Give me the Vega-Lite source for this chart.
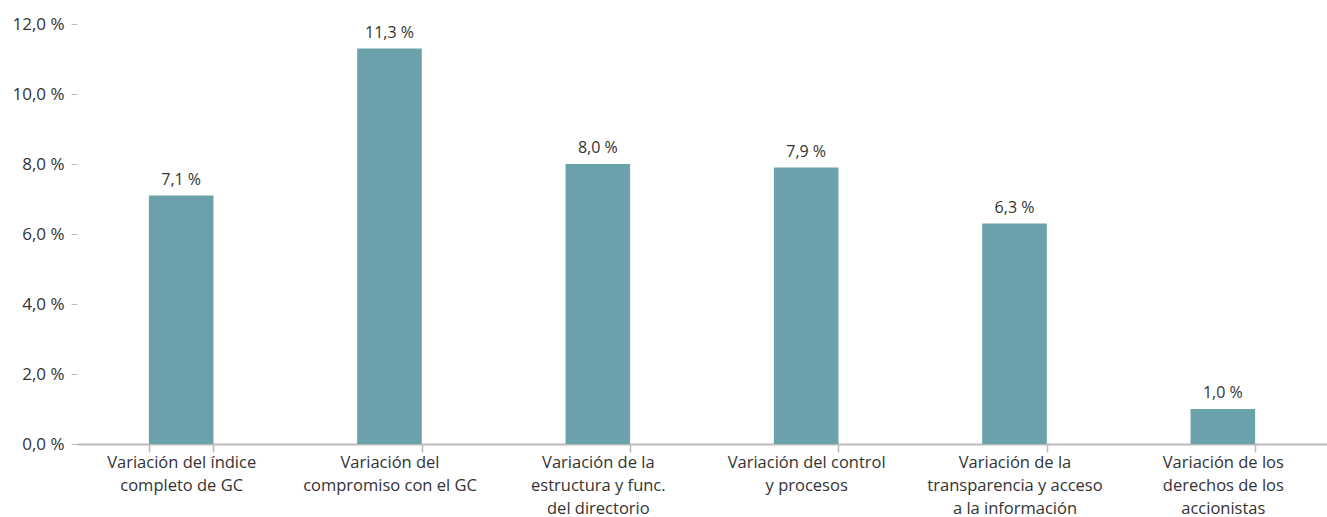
{
  "$schema": "https://vega.github.io/schema/vega-lite/v6.json",
  "width": 1250,
  "height": 420,
  "autosize": {"type": "none"},
  "padding": {"left": 77, "top": 24, "right": 0, "bottom": 73},
  "background": "white",
  "config": {
    "view": {"stroke": null},
    "font": "Open Sans",
    "text": {"font": "Open Sans"}
  },
  "data": {
    "values": [
      {"cat": "Variación del índice|completo de GC", "v": 7.1},
      {"cat": "Variación del|compromiso con el GC", "v": 11.3},
      {"cat": "Variación de la|estructura y func.|del directorio", "v": 8.0},
      {"cat": "Variación del control|y procesos", "v": 7.9},
      {"cat": "Variación de la|transparencia y acceso|a la información", "v": 6.3},
      {"cat": "Variación de los|derechos de los|accionistas", "v": 1.0}
    ]
  },
  "transform": [
    {"calculate": "replace(format(datum.v, '.1f'), '.', ',') + ' %'", "as": "lab"}
  ],
  "encoding": {
    "x": {
      "field": "cat",
      "type": "nominal",
      "sort": null,
      "scale": {"paddingInner": 0.69, "paddingOuter": 0.345},
      "axis": {
        "title": null,
        "labelAngle": 0,
        "labelExpr": "isString(datum.value) ? split(datum.value, '|') : ''",
        "labelFontSize": 16.5,
        "labelColor": "#333333",
        "labelLineHeight": 23,
        "labelPadding": 2,
        "labelBaseline": "top",
        "tickBand": "extent",
        "tickSize": 8,
        "tickColor": "#bbbbbb",
        "tickWidth": 1.5,
        "domainColor": "#bbbbbb",
        "domainWidth": 2
      }
    }
  },
  "layer": [
    {
      "mark": {"type": "bar", "color": "#6aa1ab"},
      "encoding": {
        "y": {
          "field": "v",
          "type": "quantitative",
          "scale": {"domain": [0, 12], "nice": false},
          "axis": {
            "title": null,
            "values": [0, 2, 4, 6, 8, 10, 12],
            "labelExpr": "replace(format(datum.value, '.1f'), '.', ',') + ' %'",
            "labelFontSize": 17,
            "labelColor": "#333333",
            "labelPadding": 7,
            "tickSize": 6,
            "tickColor": "#bbbbbb",
            "domain": false,
            "grid": false
          }
        }
      }
    },
    {
      "mark": {"type": "text", "dy": -16, "fontSize": 16, "color": "#333333"},
      "encoding": {
        "y": {"field": "v", "type": "quantitative"},
        "text": {"field": "lab"}
      }
    }
  ]
}
